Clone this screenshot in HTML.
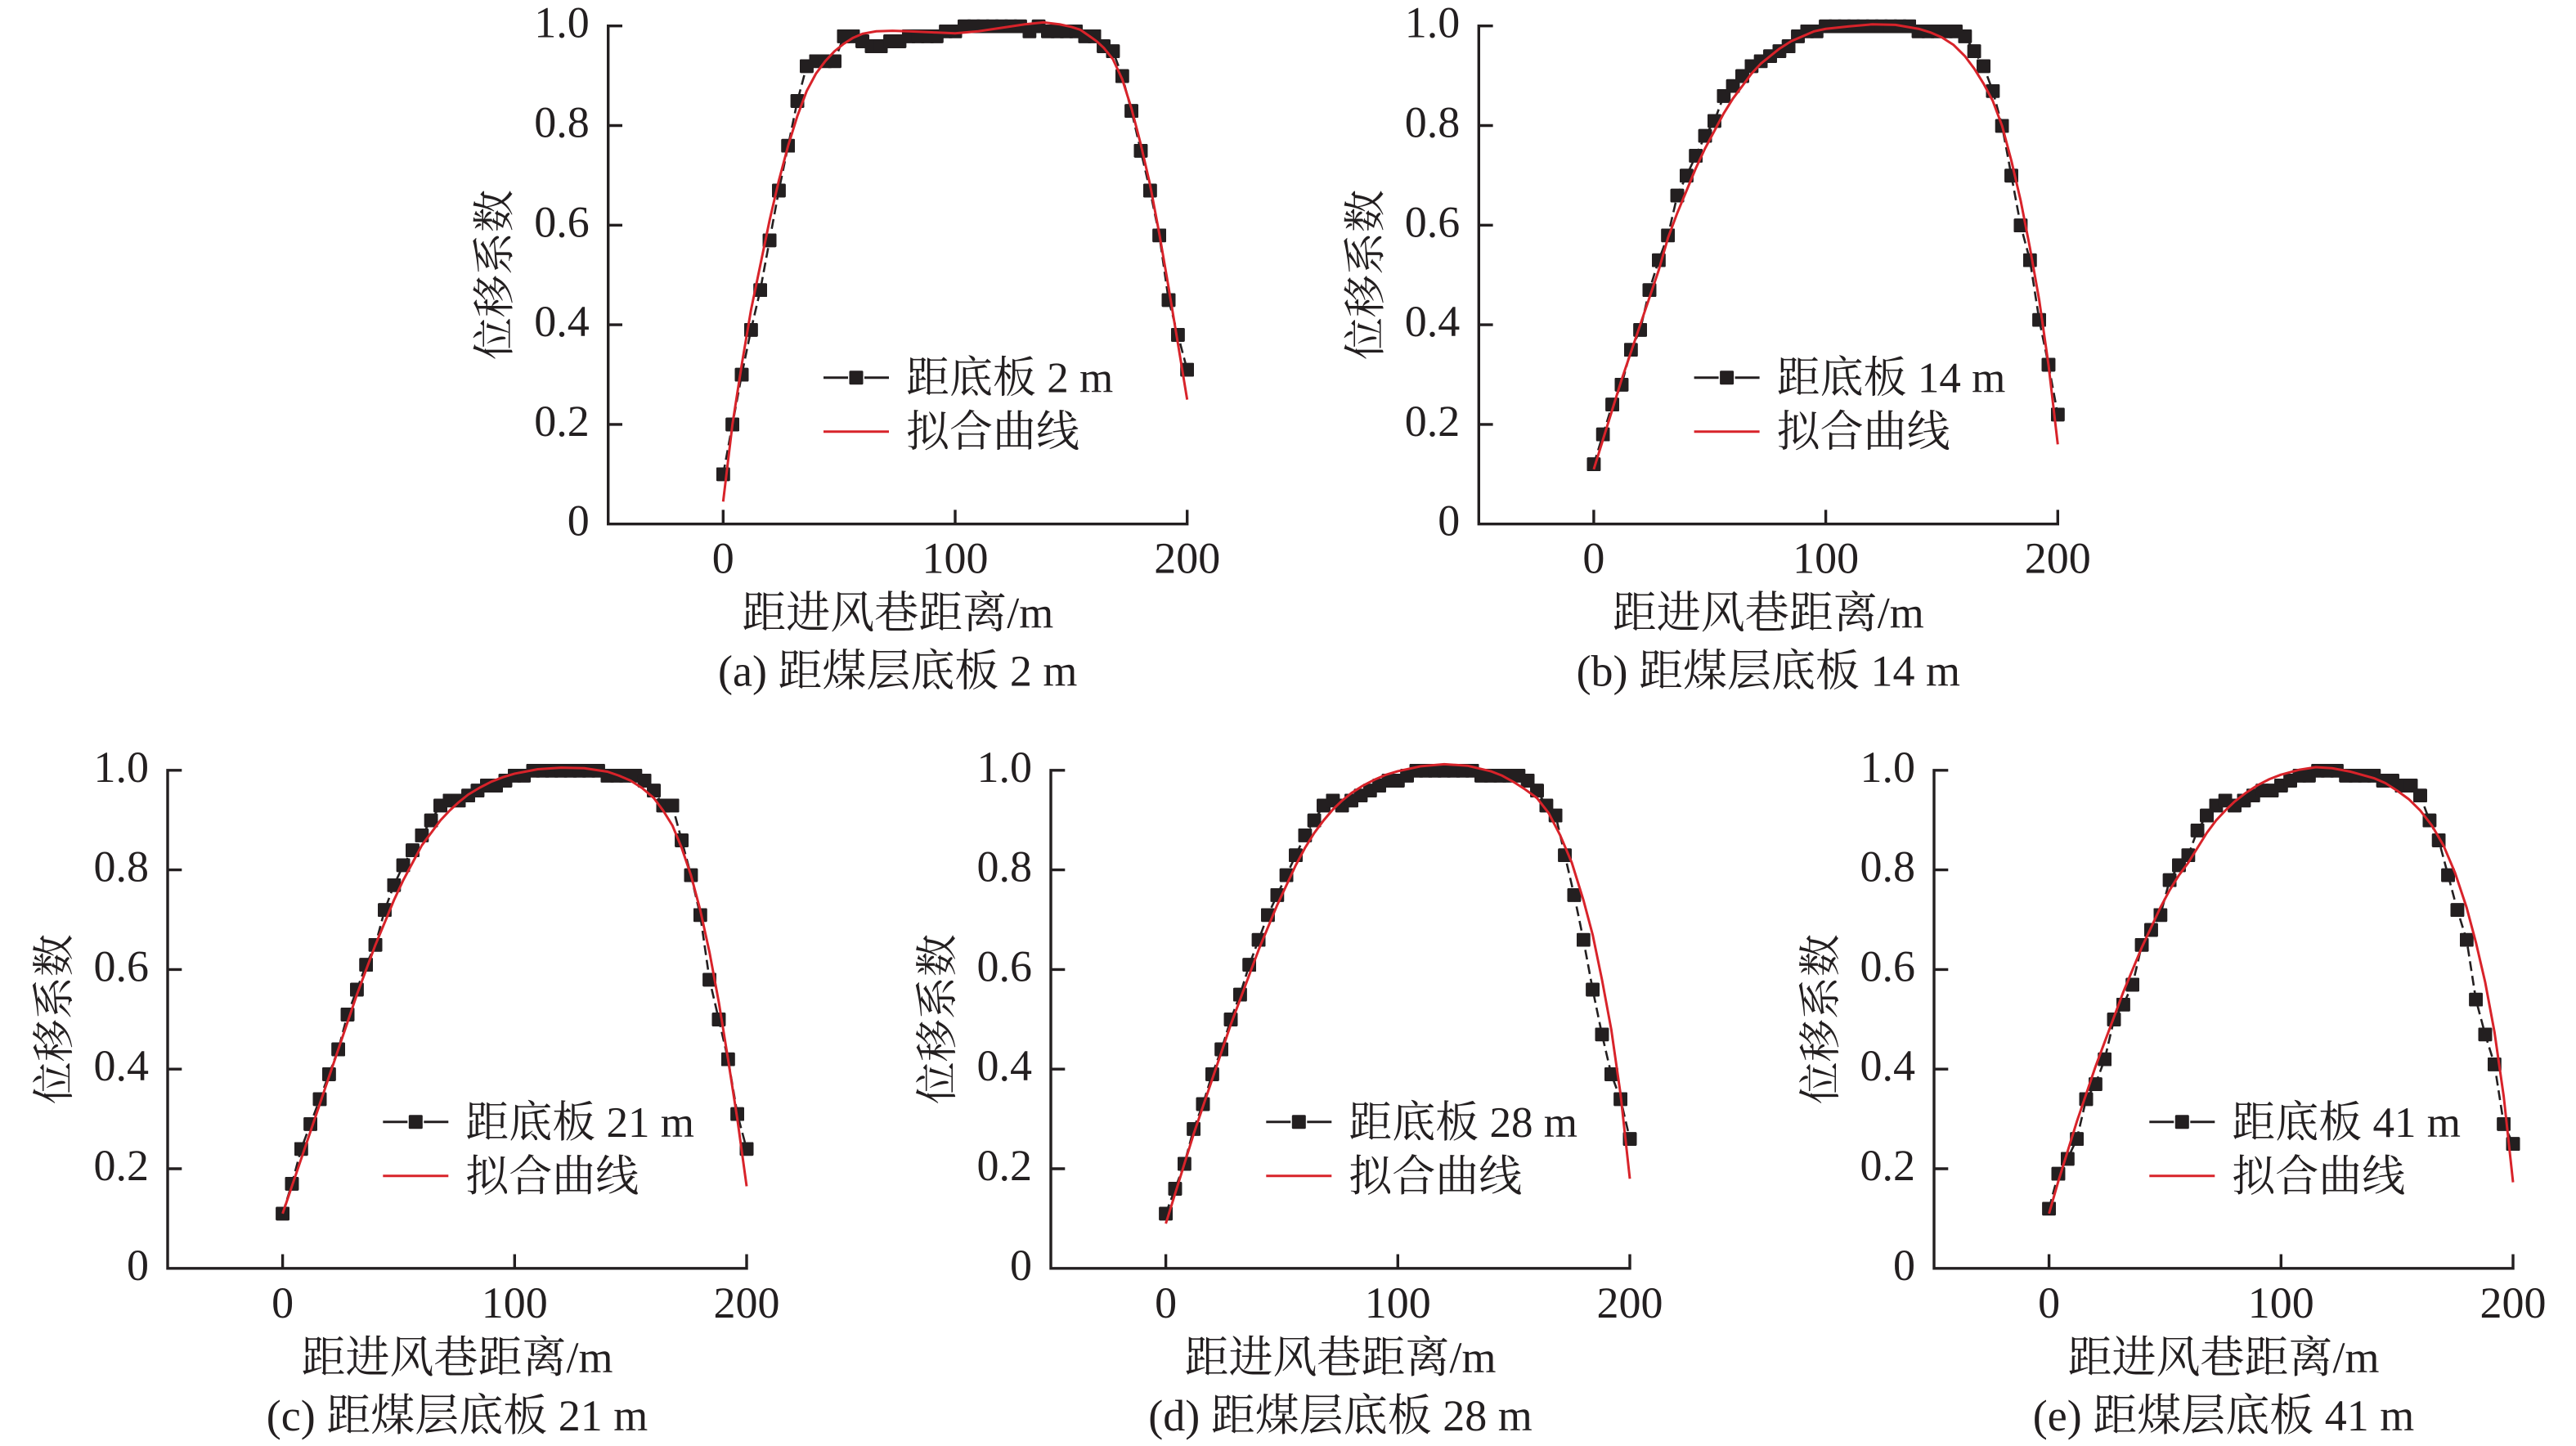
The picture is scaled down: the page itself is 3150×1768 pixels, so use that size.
<!DOCTYPE html>
<html>
<head>
<meta charset="utf-8">
<style>
html,body{margin:0;padding:0;background:#fff;}
svg{display:block;}
text{font-family:"Liberation Serif","Noto Serif CJK SC",serif;fill:#231f20;}
.tk{font-size:54px;}
.tt{font-size:54px;}
.lg{font-size:53px;}
.yt{font-size:52px;}
.ax{fill:none;stroke:#231f20;stroke-width:3.4;}
.bl{fill:none;stroke:#231f20;stroke-width:2.6;stroke-dasharray:12 6;}
.mk{fill:none;stroke:none;marker-start:url(#sq);marker-mid:url(#sq);marker-end:url(#sq);}
.rd{fill:none;stroke:#d8232a;stroke-width:3;stroke-linejoin:round;}
.lgb{fill:none;stroke:#231f20;stroke-width:3;}
.lgr{fill:none;stroke:#d8232a;stroke-width:3;}
</style>
</head>
<body>
<svg width="3150" height="1768" viewBox="0 0 3150 1768" xmlns="http://www.w3.org/2000/svg">
<defs>
<marker id="sq" markerUnits="userSpaceOnUse" markerWidth="5.992" markerHeight="2.794" viewBox="0 0 10 10" refX="5" refY="5" preserveAspectRatio="none">
<rect x="0" y="0" width="10" height="10" rx="1" ry="1" fill="#231f20"/>
</marker>
</defs>
<rect x="0" y="0" width="3150" height="1768" fill="#fff"/>

<!-- (a) -->
<g transform="translate(884.3,640.7)">
<path class="ax" d="M -123.3 -609 H -140.6 V 0 H 567.4 V -17.3 M -140.6 -121.8 h 17.3 M -140.6 -243.6 h 17.3 M -140.6 -365.4 h 17.3 M -140.6 -487.2 h 17.3 M 0 0 v -17.3 M 283.7 0 v -17.3"/>
<text class="tk" x="-163.6" y="-595" text-anchor="end">1.0</text>
<text class="tk" x="-163.6" y="-473.2" text-anchor="end">0.8</text>
<text class="tk" x="-163.6" y="-351.4" text-anchor="end">0.6</text>
<text class="tk" x="-163.6" y="-229.6" text-anchor="end">0.4</text>
<text class="tk" x="-163.6" y="-107.8" text-anchor="end">0.2</text>
<text class="tk" x="-163.6" y="14" text-anchor="end">0</text>
<text class="tk" x="0" y="60" text-anchor="middle">0</text>
<text class="tk" x="283.7" y="60" text-anchor="middle">100</text>
<text class="tk" x="567.4" y="60" text-anchor="middle">200</text>
<text class="tt" x="213.4" y="127" text-anchor="middle">距进风巷距离/m</text>
<text class="tt" x="213.4" y="198" text-anchor="middle">(a) 距煤层底板 2 m</text>
<text class="yt" transform="translate(-280.3,-304.7) rotate(-90)" text-anchor="middle" dy="0.36em">位移系数</text>
<path class="lgb" d="M 122.7 -179 H 152.7 M 172.7 -179 H 202.7"/>
<rect x="154.2" y="-187.5" width="17" height="17" rx="1.5" fill="#231f20"/>
<path class="lgr" d="M 122.7 -113 H 202.7"/>
<text class="lg" x="223.7" y="-161">距底板 2 m</text>
<text class="lg" x="223.7" y="-95">拟合曲线</text>
<g transform="scale(2.837,-6.085)">
<polyline class="bl" vector-effect="non-scaling-stroke" points="0,10 4,20 8,30 12,39 16,47 20,57 24,67 28,76 32,85 36,92 40,93 44,93 48,93 52,98 56,98 60,97 64,96 68,96 72,97 76,97 80,98 84,98 88,98 92,98 96,99 100,99 104,100 108,100 112,100 116,100 120,100 124,100 128,100 132,99 136,100 140,99 144,99 148,99 152,99 156,98 160,98 164,96 168,95 172,90 176,83 180,75 184,67 188,58 192,45 196,38 200,31"/>
<polyline class="mk" points="0,10 4,20 8,30 12,39 16,47 20,57 24,67 28,76 32,85 36,92 40,93 44,93 48,93 52,98 56,98 60,97 64,96 68,96 72,97 76,97 80,98 84,98 88,98 92,98 96,99 100,99 104,100 108,100 112,100 116,100 120,100 124,100 128,100 132,99 136,100 140,99 144,99 148,99 152,99 156,98 160,98 164,96 168,95 172,90 176,83 180,75 184,67 188,58 192,45 196,38 200,31"/>
<polyline class="rd" vector-effect="non-scaling-stroke" points="0,4.5 4,20 8,32 12,43 16,52 20,61 24,69 28,76 32,82 36,87 40,90.5 44,93 48,95 52,96.5 56,97.7 60,98.5 66,99 73,99.1 80,99 90,98.8 100,98.6 110,99 120,99.7 130,100.4 138,100.8 145,100.4 150,99.9 154,99.3 158,98 161,97 164,95.7 168,93.4 172,89.4 176,83.5 180,76.3 184,68.2 188,58.3 192,47.5 196,36.3 200,25"/>
</g>
</g>

<!-- (b) -->
<g transform="translate(1948.9,640.7)">
<path class="ax" d="M -123.3 -609 H -140.6 V 0 H 567.4 V -17.3 M -140.6 -121.8 h 17.3 M -140.6 -243.6 h 17.3 M -140.6 -365.4 h 17.3 M -140.6 -487.2 h 17.3 M 0 0 v -17.3 M 283.7 0 v -17.3"/>
<text class="tk" x="-163.6" y="-595" text-anchor="end">1.0</text>
<text class="tk" x="-163.6" y="-473.2" text-anchor="end">0.8</text>
<text class="tk" x="-163.6" y="-351.4" text-anchor="end">0.6</text>
<text class="tk" x="-163.6" y="-229.6" text-anchor="end">0.4</text>
<text class="tk" x="-163.6" y="-107.8" text-anchor="end">0.2</text>
<text class="tk" x="-163.6" y="14" text-anchor="end">0</text>
<text class="tk" x="0" y="60" text-anchor="middle">0</text>
<text class="tk" x="283.7" y="60" text-anchor="middle">100</text>
<text class="tk" x="567.4" y="60" text-anchor="middle">200</text>
<text class="tt" x="213.4" y="127" text-anchor="middle">距进风巷距离/m</text>
<text class="tt" x="213.4" y="198" text-anchor="middle">(b) 距煤层底板 14 m</text>
<text class="yt" transform="translate(-280.3,-304.7) rotate(-90)" text-anchor="middle" dy="0.36em">位移系数</text>
<path class="lgb" d="M 122.7 -179 H 152.7 M 172.7 -179 H 202.7"/>
<rect x="154.2" y="-187.5" width="17" height="17" rx="1.5" fill="#231f20"/>
<path class="lgr" d="M 122.7 -113 H 202.7"/>
<text class="lg" x="223.7" y="-161">距底板 14 m</text>
<text class="lg" x="223.7" y="-95">拟合曲线</text>
<g transform="scale(2.837,-6.085)">
<polyline class="bl" vector-effect="non-scaling-stroke" points="0,12 4,18 8,24 12,28 16,35 20,39 24,47 28,53 32,58 36,66 40,70 44,74 48,78 52,81 56,86 60,88 64,90 68,92 72,93 76,94 80,95 84,96 88,98 92,99 96,99 100,100 104,100 108,100 112,100 116,100 120,100 124,100 128,100 132,100 136,100 140,99 144,99 148,99 152,99 156,99 160,98 164,95 168,92 172,87 176,80 180,70 184,60 188,53 192,41 196,32 200,22"/>
<polyline class="mk" points="0,12 4,18 8,24 12,28 16,35 20,39 24,47 28,53 32,58 36,66 40,70 44,74 48,78 52,81 56,86 60,88 64,90 68,92 72,93 76,94 80,95 84,96 88,98 92,99 96,99 100,100 104,100 108,100 112,100 116,100 120,100 124,100 128,100 132,100 136,100 140,99 144,99 148,99 152,99 156,99 160,98 164,95 168,92 172,87 176,80 180,70 184,60 188,53 192,41 196,32 200,22"/>
<polyline class="rd" vector-effect="non-scaling-stroke" points="0,11 4,17 8,23 12,29 16,34.5 20,40 24,45.5 28,51 32,57.5 36,62.5 40,67 44,71.5 48,75.5 52,79 56,82.5 60,85.5 64,88 68,90.5 72,92.5 76,94 80,95.5 85,97 90,98 95,99 100,99.5 110,100 120,100.4 130,100.3 140,99.5 145,98.8 150,97.8 155,96.3 160,94 164,91.5 168,88.5 172,85 176,80 180,73 184,65 188,55.5 192,45 196,32 200,16"/>
</g>
</g>

<!-- (c) -->
<g transform="translate(345.6,1550.8)">
<path class="ax" d="M -123.3 -609 H -140.6 V 0 H 567.4 V -17.3 M -140.6 -121.8 h 17.3 M -140.6 -243.6 h 17.3 M -140.6 -365.4 h 17.3 M -140.6 -487.2 h 17.3 M 0 0 v -17.3 M 283.7 0 v -17.3"/>
<text class="tk" x="-163.6" y="-595" text-anchor="end">1.0</text>
<text class="tk" x="-163.6" y="-473.2" text-anchor="end">0.8</text>
<text class="tk" x="-163.6" y="-351.4" text-anchor="end">0.6</text>
<text class="tk" x="-163.6" y="-229.6" text-anchor="end">0.4</text>
<text class="tk" x="-163.6" y="-107.8" text-anchor="end">0.2</text>
<text class="tk" x="-163.6" y="14" text-anchor="end">0</text>
<text class="tk" x="0" y="60" text-anchor="middle">0</text>
<text class="tk" x="283.7" y="60" text-anchor="middle">100</text>
<text class="tk" x="567.4" y="60" text-anchor="middle">200</text>
<text class="tt" x="213.4" y="127" text-anchor="middle">距进风巷距离/m</text>
<text class="tt" x="213.4" y="198" text-anchor="middle">(c) 距煤层底板 21 m</text>
<text class="yt" transform="translate(-280.3,-304.7) rotate(-90)" text-anchor="middle" dy="0.36em">位移系数</text>
<path class="lgb" d="M 122.7 -179 H 152.7 M 172.7 -179 H 202.7"/>
<rect x="154.2" y="-187.5" width="17" height="17" rx="1.5" fill="#231f20"/>
<path class="lgr" d="M 122.7 -113 H 202.7"/>
<text class="lg" x="223.7" y="-161">距底板 21 m</text>
<text class="lg" x="223.7" y="-95">拟合曲线</text>
<g transform="scale(2.837,-6.085)">
<polyline class="bl" vector-effect="non-scaling-stroke" points="0,11 4,17 8,24 12,29 16,34 20,39 24,44 28,51 32,56 36,61 40,65 44,72 48,77 52,81 56,84 60,87 64,90 68,93 72,94 76,94 80,95 84,96 88,97 92,97 96,98 100,99 104,99 108,100 112,100 116,100 120,100 124,100 128,100 132,100 136,100 140,99 144,99 148,99 152,99 156,98 160,96 164,93 168,93 172,86 176,79 180,71 184,58 188,50 192,42 196,31 200,24"/>
<polyline class="mk" points="0,11 4,17 8,24 12,29 16,34 20,39 24,44 28,51 32,56 36,61 40,65 44,72 48,77 52,81 56,84 60,87 64,90 68,93 72,94 76,94 80,95 84,96 88,97 92,97 96,98 100,99 104,99 108,100 112,100 116,100 120,100 124,100 128,100 132,100 136,100 140,99 144,99 148,99 152,99 156,98 160,96 164,93 168,93 172,86 176,79 180,71 184,58 188,50 192,42 196,31 200,24"/>
<polyline class="rd" vector-effect="non-scaling-stroke" points="0,11 4,16.5 8,22 12,27.5 16,33 20,38.5 24,44 28,49.5 32,55 36,60 40,65 44,69.5 48,74 52,78 56,81.5 60,85 64,87.5 68,90 72,92 76,93.7 80,95.2 85,96.6 90,97.8 95,98.7 100,99.4 110,100.3 120,100.6 130,100.5 140,99.8 145,99 150,98 155,96.5 160,94.5 164,92 168,89 172,84.5 176,79 180,72 184,63.5 188,53.5 192,42 196,30 200,16.5"/>
</g>
</g>

<!-- (d) -->
<g transform="translate(1425.6,1550.8)">
<path class="ax" d="M -123.3 -609 H -140.6 V 0 H 567.4 V -17.3 M -140.6 -121.8 h 17.3 M -140.6 -243.6 h 17.3 M -140.6 -365.4 h 17.3 M -140.6 -487.2 h 17.3 M 0 0 v -17.3 M 283.7 0 v -17.3"/>
<text class="tk" x="-163.6" y="-595" text-anchor="end">1.0</text>
<text class="tk" x="-163.6" y="-473.2" text-anchor="end">0.8</text>
<text class="tk" x="-163.6" y="-351.4" text-anchor="end">0.6</text>
<text class="tk" x="-163.6" y="-229.6" text-anchor="end">0.4</text>
<text class="tk" x="-163.6" y="-107.8" text-anchor="end">0.2</text>
<text class="tk" x="-163.6" y="14" text-anchor="end">0</text>
<text class="tk" x="0" y="60" text-anchor="middle">0</text>
<text class="tk" x="283.7" y="60" text-anchor="middle">100</text>
<text class="tk" x="567.4" y="60" text-anchor="middle">200</text>
<text class="tt" x="213.4" y="127" text-anchor="middle">距进风巷距离/m</text>
<text class="tt" x="213.4" y="198" text-anchor="middle">(d) 距煤层底板 28 m</text>
<text class="yt" transform="translate(-280.3,-304.7) rotate(-90)" text-anchor="middle" dy="0.36em">位移系数</text>
<path class="lgb" d="M 122.7 -179 H 152.7 M 172.7 -179 H 202.7"/>
<rect x="154.2" y="-187.5" width="17" height="17" rx="1.5" fill="#231f20"/>
<path class="lgr" d="M 122.7 -113 H 202.7"/>
<text class="lg" x="223.7" y="-161">距底板 28 m</text>
<text class="lg" x="223.7" y="-95">拟合曲线</text>
<g transform="scale(2.837,-6.085)">
<polyline class="bl" vector-effect="non-scaling-stroke" points="0,11 4,16 8,21 12,28 16,33 20,39 24,44 28,50 32,55 36,61 40,66 44,71 48,75 52,79 56,83 60,87 64,90 68,93 72,94 76,93 80,94 84,95 88,96 92,97 96,98 100,98 104,99 108,100 112,100 116,100 120,100 124,100 128,100 132,100 136,99 140,99 144,99 148,99 152,99 156,98 160,96 164,93 168,91 172,83 176,75 180,66 184,56 188,47 192,39 196,34 200,26"/>
<polyline class="mk" points="0,11 4,16 8,21 12,28 16,33 20,39 24,44 28,50 32,55 36,61 40,66 44,71 48,75 52,79 56,83 60,87 64,90 68,93 72,94 76,93 80,94 84,95 88,96 92,97 96,98 100,98 104,99 108,100 112,100 116,100 120,100 124,100 128,100 132,100 136,99 140,99 144,99 148,99 152,99 156,98 160,96 164,93 168,91 172,83 176,75 180,66 184,56 188,47 192,39 196,34 200,26"/>
<polyline class="rd" vector-effect="non-scaling-stroke" points="0,9 4,15 8,21 12,27 16,32.5 20,38 24,43.5 28,49 32,54 36,59 40,64 44,68.5 48,73 52,77 56,81 60,84.5 64,87.5 68,90 72,92.2 76,94 80,95.5 85,97 90,98.2 95,99.2 100,99.9 110,100.9 120,101.3 130,101 140,99.9 145,99 150,97.7 155,96.2 160,94.5 165,91.5 170,87 175,81.5 180,74 184,67 188,58 192,48 196,35 200,18"/>
</g>
</g>

<!-- (e) -->
<g transform="translate(2505.6,1550.8)">
<path class="ax" d="M -123.3 -609 H -140.6 V 0 H 567.4 V -17.3 M -140.6 -121.8 h 17.3 M -140.6 -243.6 h 17.3 M -140.6 -365.4 h 17.3 M -140.6 -487.2 h 17.3 M 0 0 v -17.3 M 283.7 0 v -17.3"/>
<text class="tk" x="-163.6" y="-595" text-anchor="end">1.0</text>
<text class="tk" x="-163.6" y="-473.2" text-anchor="end">0.8</text>
<text class="tk" x="-163.6" y="-351.4" text-anchor="end">0.6</text>
<text class="tk" x="-163.6" y="-229.6" text-anchor="end">0.4</text>
<text class="tk" x="-163.6" y="-107.8" text-anchor="end">0.2</text>
<text class="tk" x="-163.6" y="14" text-anchor="end">0</text>
<text class="tk" x="0" y="60" text-anchor="middle">0</text>
<text class="tk" x="283.7" y="60" text-anchor="middle">100</text>
<text class="tk" x="567.4" y="60" text-anchor="middle">200</text>
<text class="tt" x="213.4" y="127" text-anchor="middle">距进风巷距离/m</text>
<text class="tt" x="213.4" y="198" text-anchor="middle">(e) 距煤层底板 41 m</text>
<text class="yt" transform="translate(-280.3,-304.7) rotate(-90)" text-anchor="middle" dy="0.36em">位移系数</text>
<path class="lgb" d="M 122.7 -179 H 152.7 M 172.7 -179 H 202.7"/>
<rect x="154.2" y="-187.5" width="17" height="17" rx="1.5" fill="#231f20"/>
<path class="lgr" d="M 122.7 -113 H 202.7"/>
<text class="lg" x="223.7" y="-161">距底板 41 m</text>
<text class="lg" x="223.7" y="-95">拟合曲线</text>
<g transform="scale(2.837,-6.085)">
<polyline class="bl" vector-effect="non-scaling-stroke" points="0,12 4,19 8,22 12,26 16,34 20,37 24,42 28,50 32,53 36,57 40,65 44,68 48,71 52,78 56,81 60,83 64,88 68,91 72,93 76,94 80,93 84,94 88,95 92,96 96,96 100,97 104,98 108,99 112,99 116,100 120,100 124,100 128,99 132,99 136,99 140,99 144,98 148,98 152,97 156,97 160,95 164,90 168,86 172,79 176,72 180,66 184,54 188,47 192,41 196,29 200,25"/>
<polyline class="mk" points="0,12 4,19 8,22 12,26 16,34 20,37 24,42 28,50 32,53 36,57 40,65 44,68 48,71 52,78 56,81 60,83 64,88 68,91 72,93 76,94 80,93 84,94 88,95 92,96 96,96 100,97 104,98 108,99 112,99 116,100 120,100 124,100 128,99 132,99 136,99 140,99 144,98 148,98 152,97 156,97 160,95 164,90 168,86 172,79 176,72 180,66 184,54 188,47 192,41 196,29 200,25"/>
<polyline class="rd" vector-effect="non-scaling-stroke" points="0,11 4,17.5 8,23.5 12,29.5 16,35 20,40.5 24,45.5 28,50.5 32,55.5 36,60 40,64.5 44,68.5 48,72.5 52,76 56,79 60,81.5 64,84.5 68,87.5 72,90 76,92 80,93.8 85,95.6 90,97.1 95,98.3 100,99.2 108,100.2 115,100.7 122,100.5 130,99.8 140,98.5 145,97.5 150,96 155,94.3 160,92 165,89 170,85 175,79.5 180,72.5 184,65.5 188,57.5 192,47.5 196,34.5 200,17.3"/>
</g>
</g>
</svg>
</body>
</html>
